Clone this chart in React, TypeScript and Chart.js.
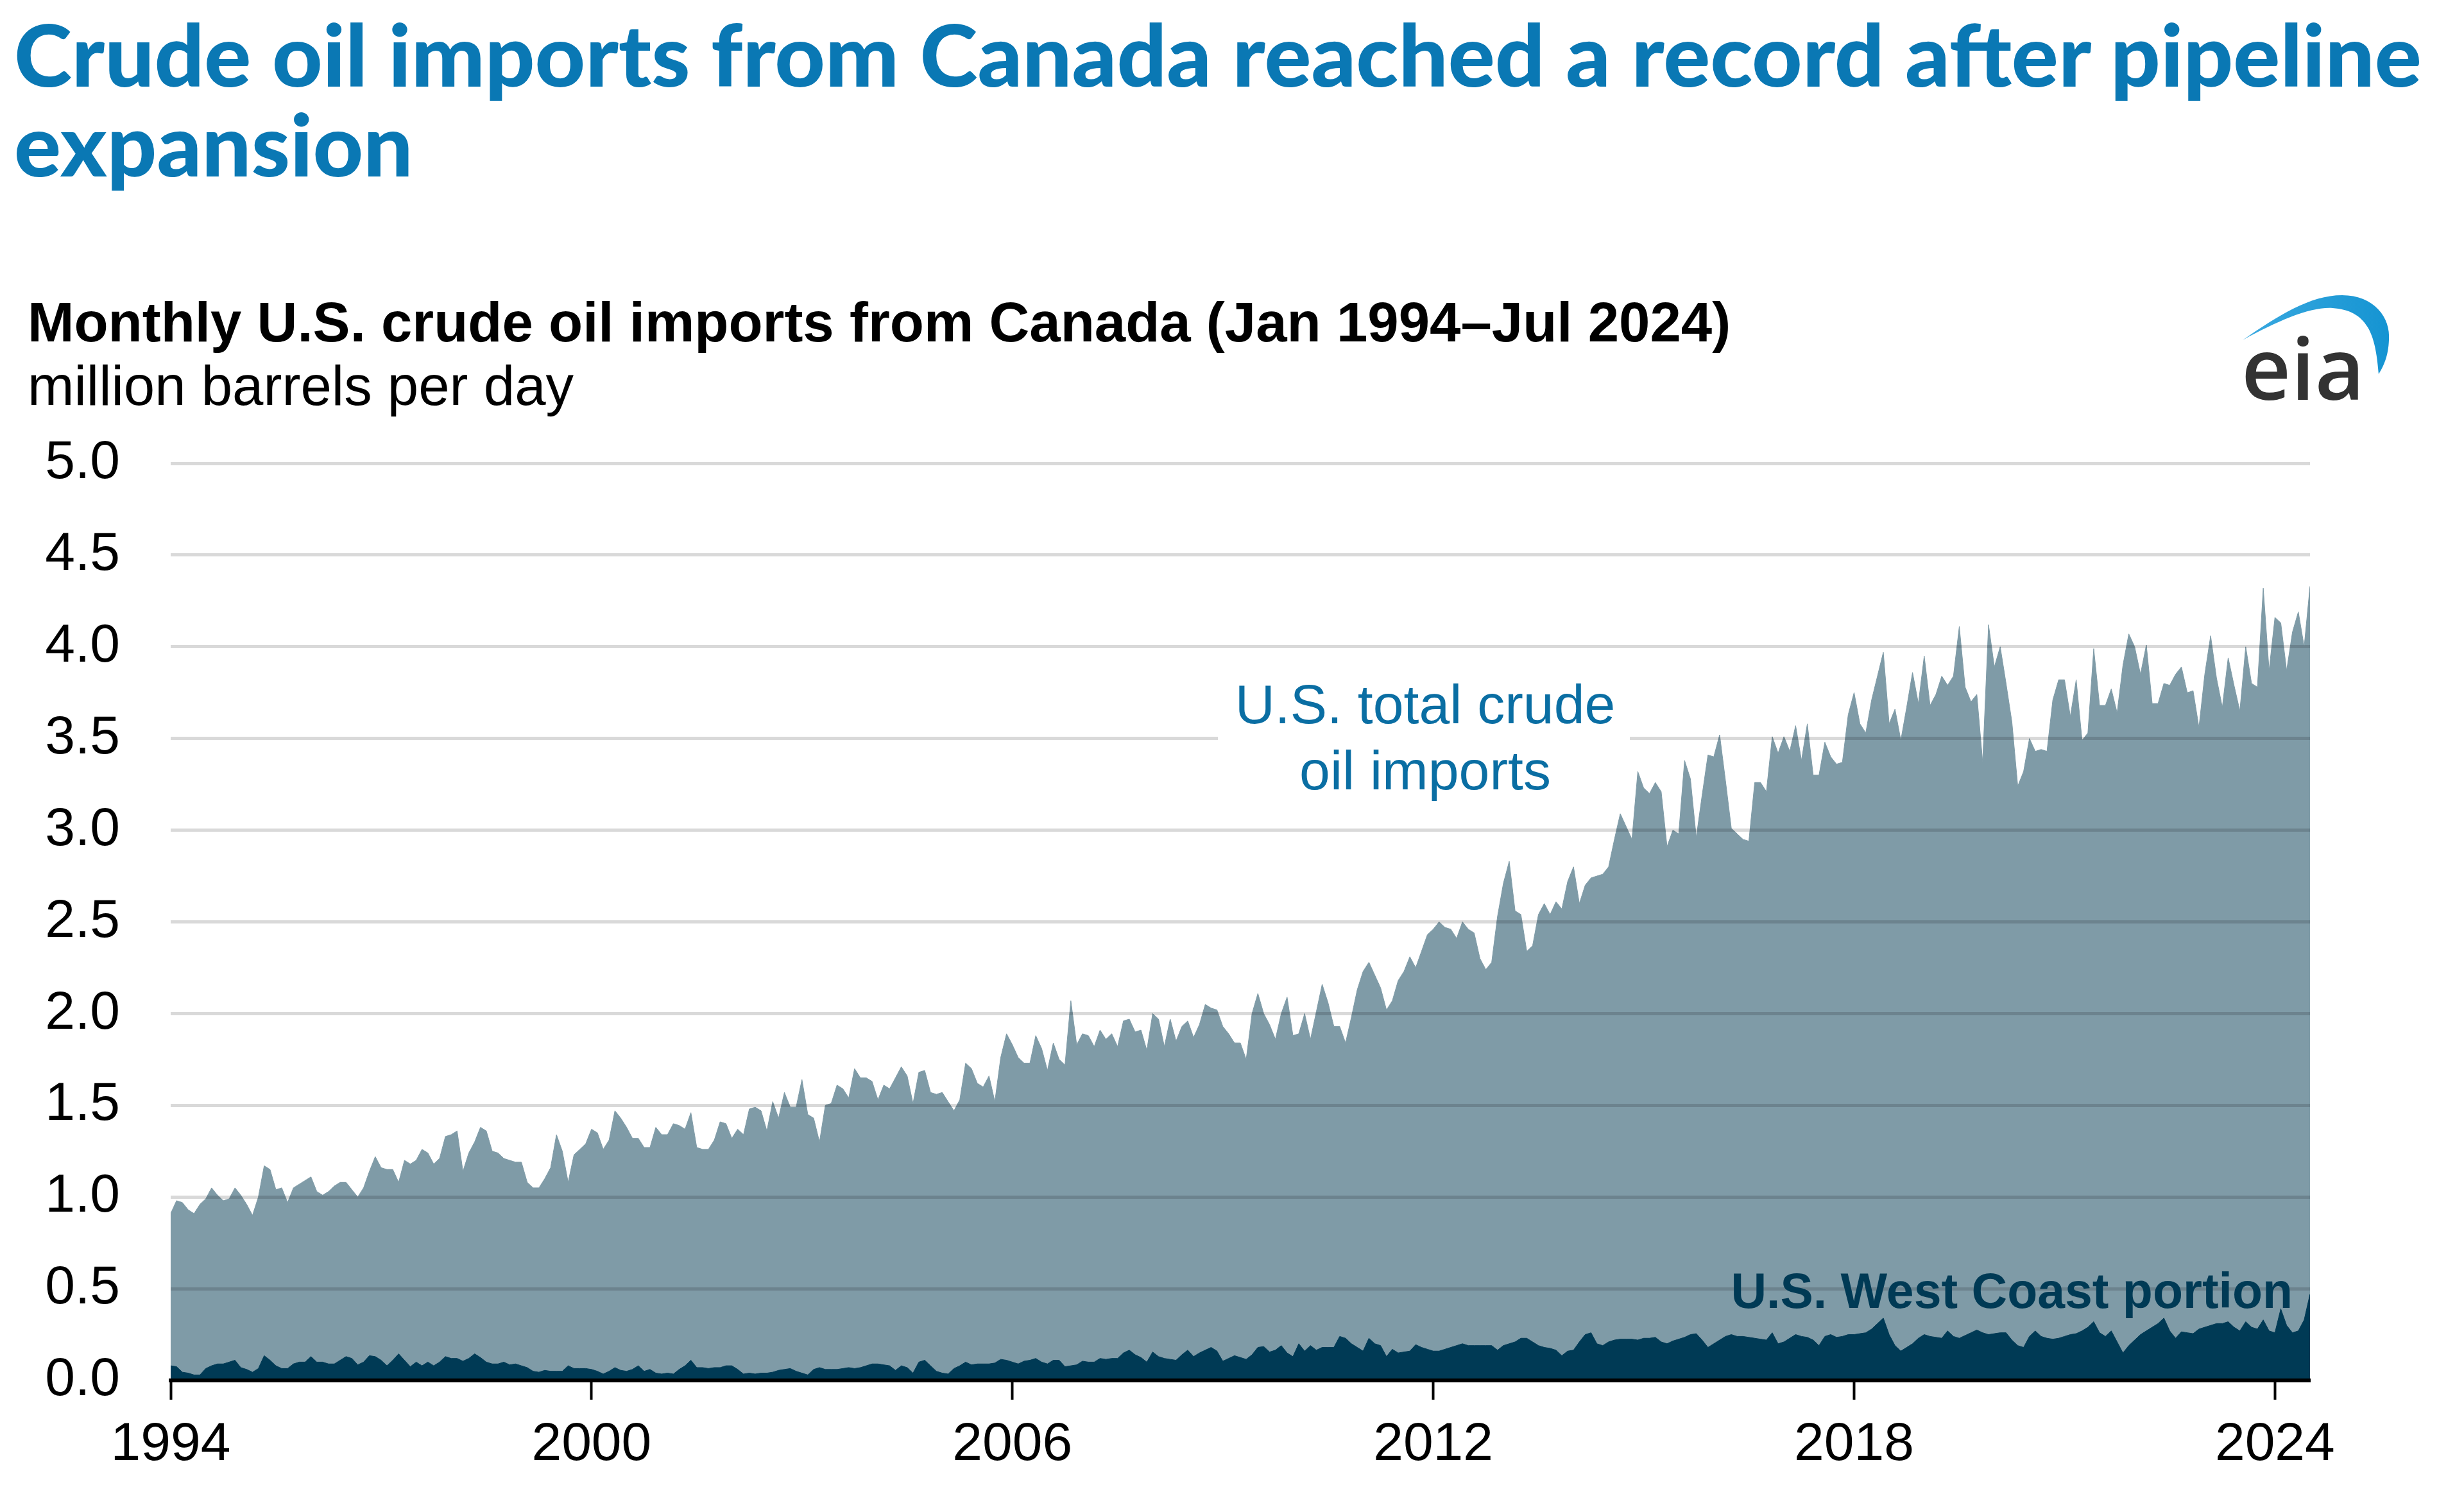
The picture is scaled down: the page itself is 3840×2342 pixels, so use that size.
import React, { useEffect, useLayoutEffect, useRef } from "react";
import { Chart, registerables } from "chart.js";

Chart.register(...registerables);

// ---------- DATA (million barrels per day, monthly Jan 1994 – Jul 2024) ----------
const FIRST_YEAR = 1994;
const X_TICK_STEP_MONTHS = 72; // one labelled tick every 6 years

const total1994to1999 = [
  0.91, 0.98, 0.97, 0.93, 0.91, 0.96, 0.99, 1.05, 1.01, 0.98, 0.99, 1.05,
  1.01, 0.96, 0.9, 1.0, 1.17, 1.15, 1.04, 1.05, 0.97, 1.05, 1.07, 1.09,
  1.11, 1.03, 1.01, 1.03, 1.06, 1.08, 1.08, 1.04, 1.0, 1.05, 1.14, 1.22,
  1.16, 1.15, 1.15, 1.08, 1.2, 1.18, 1.2, 1.26, 1.24, 1.18, 1.21, 1.33,
  1.34, 1.36, 1.14, 1.24, 1.3, 1.38, 1.36, 1.25, 1.24, 1.21, 1.2, 1.19,
  1.19, 1.08, 1.05, 1.05, 1.1, 1.16, 1.34, 1.25, 1.08, 1.23, 1.26, 1.29,
];
const total2000to2005 = [
  1.37, 1.35, 1.26, 1.31, 1.47, 1.43, 1.38, 1.32, 1.32, 1.27, 1.27, 1.38,
  1.34, 1.34, 1.4, 1.39, 1.37, 1.46, 1.27, 1.26, 1.26, 1.31, 1.41, 1.4,
  1.32, 1.37, 1.34, 1.48, 1.49, 1.47, 1.36, 1.52, 1.43, 1.57, 1.49, 1.49,
  1.64, 1.45, 1.43, 1.3, 1.5, 1.51, 1.61, 1.59, 1.54, 1.7, 1.65, 1.65,
  1.63, 1.53, 1.61, 1.59, 1.65, 1.71, 1.66, 1.51, 1.68, 1.69, 1.57, 1.56,
  1.57, 1.52, 1.47, 1.53, 1.73, 1.7, 1.62, 1.6, 1.66, 1.52, 1.76, 1.89,
];
const total2006to2011 = [
  1.83, 1.76, 1.73, 1.73, 1.88, 1.81, 1.69, 1.84, 1.75, 1.72, 2.07, 1.83,
  1.89, 1.88, 1.82, 1.91, 1.86, 1.89, 1.82, 1.96, 1.97, 1.9, 1.91, 1.8,
  2.0, 1.97, 1.82, 1.97, 1.85, 1.93, 1.96, 1.87, 1.94, 2.05, 2.03, 2.02,
  1.93, 1.89, 1.84, 1.84, 1.75, 2.0, 2.11, 2.0, 1.94, 1.86, 2.0, 2.09,
  1.88, 1.89, 2.0, 1.86, 2.01, 2.16, 2.06, 1.93, 1.93, 1.84, 1.98, 2.13,
  2.23, 2.28, 2.21, 2.14, 2.02, 2.07, 2.18, 2.23, 2.31, 2.25, 2.34, 2.43,
];
const total2012to2017 = [
  2.46, 2.5, 2.47, 2.46, 2.41, 2.5, 2.46, 2.44, 2.3, 2.24, 2.28, 2.53,
  2.71, 2.83, 2.56, 2.54, 2.34, 2.37, 2.54, 2.6, 2.54, 2.61, 2.57, 2.72,
  2.8, 2.6, 2.7, 2.74, 2.75, 2.76, 2.8, 2.95, 3.09, 3.02, 2.95, 3.32,
  3.23, 3.2, 3.26, 3.21, 2.91, 3.0, 2.98, 3.38, 3.28, 2.96, 3.19, 3.41,
  3.4, 3.52, 3.27, 3.01, 2.98, 2.95, 2.94, 3.26, 3.26, 3.21, 3.51, 3.42,
  3.51, 3.43, 3.57, 3.38, 3.58, 3.3, 3.3, 3.48, 3.4, 3.36, 3.37, 3.63,
];
const total2018to2024 = [
  3.75, 3.58, 3.53, 3.71, 3.84, 3.97, 3.58, 3.66, 3.49, 3.67, 3.86, 3.69,
  3.95, 3.68, 3.74, 3.84, 3.79, 3.84, 4.11, 3.78, 3.7, 3.74, 3.37, 4.12,
  3.89, 4.0, 3.8, 3.59, 3.24, 3.32, 3.5, 3.43, 3.44, 3.43, 3.71, 3.82,
  3.82, 3.62, 3.82, 3.49, 3.53, 3.99, 3.68, 3.68, 3.77, 3.64, 3.9, 4.07,
  4.0, 3.85, 4.01, 3.69, 3.69, 3.8, 3.79, 3.85, 3.89, 3.75, 3.76, 3.56,
  3.85, 4.06, 3.83, 3.67, 3.94, 3.79, 3.65, 4.0, 3.8, 3.78, 4.32, 3.87,
  4.16, 4.13, 3.87, 4.08, 4.19, 4.0, 4.33,
];

const westCoast1994to1999 = [
  0.08, 0.075, 0.045, 0.04, 0.03, 0.03, 0.065, 0.08, 0.09, 0.09, 0.1, 0.11,
  0.07, 0.06, 0.045, 0.065, 0.135, 0.11, 0.08, 0.065, 0.065, 0.09, 0.1, 0.1,
  0.13, 0.1, 0.1, 0.09, 0.09, 0.11, 0.13, 0.12, 0.085, 0.1, 0.135, 0.13,
  0.11, 0.08, 0.11, 0.145, 0.11, 0.075, 0.1, 0.08, 0.1, 0.08, 0.1, 0.13,
  0.12, 0.12, 0.105, 0.12, 0.145, 0.125, 0.1, 0.09, 0.09, 0.1, 0.085, 0.09,
  0.08, 0.07, 0.05, 0.045, 0.055, 0.05, 0.05, 0.05, 0.08, 0.065, 0.065, 0.065,
];
const westCoast2000to2005 = [
  0.06, 0.05, 0.035, 0.05, 0.07, 0.055, 0.05, 0.06, 0.08, 0.05, 0.06, 0.04,
  0.035, 0.04, 0.035, 0.06, 0.08, 0.11, 0.07, 0.07, 0.065, 0.07, 0.07, 0.08,
  0.08, 0.06, 0.035, 0.04, 0.035, 0.04, 0.04, 0.045, 0.055, 0.06, 0.065, 0.05,
  0.04, 0.03, 0.06, 0.07, 0.06, 0.06, 0.06, 0.065, 0.07, 0.065, 0.07, 0.08,
  0.09, 0.09, 0.085, 0.08, 0.055, 0.08, 0.07, 0.04, 0.1, 0.11, 0.08, 0.05,
  0.04, 0.035, 0.065, 0.08, 0.1, 0.085, 0.09, 0.09, 0.09, 0.095, 0.115, 0.11,
];
const westCoast2006to2011 = [
  0.1, 0.09, 0.105, 0.11, 0.12, 0.1, 0.09, 0.11, 0.11, 0.075, 0.08, 0.085,
  0.105, 0.1, 0.1, 0.12, 0.115, 0.12, 0.12, 0.15, 0.165, 0.14, 0.125, 0.1,
  0.155, 0.13, 0.12, 0.115, 0.11, 0.14, 0.165, 0.13, 0.15, 0.165, 0.18, 0.16,
  0.105, 0.12, 0.135, 0.125, 0.115, 0.14, 0.18, 0.185, 0.155, 0.165, 0.19, 0.15,
  0.13, 0.2, 0.16, 0.19, 0.165, 0.18, 0.18, 0.18, 0.24, 0.23, 0.2, 0.18,
  0.16, 0.23, 0.2, 0.19, 0.13, 0.17, 0.15, 0.155, 0.16, 0.195, 0.18, 0.17,
];
const westCoast2012to2024 = [
  0.16, 0.16, 0.17, 0.18, 0.19, 0.2, 0.19, 0.19, 0.19, 0.19, 0.19, 0.165,
  0.19, 0.2, 0.21, 0.23, 0.23, 0.21, 0.19, 0.18, 0.175, 0.165, 0.135, 0.16,
  0.165, 0.21, 0.25, 0.26, 0.2, 0.19, 0.21, 0.22, 0.225, 0.225, 0.225, 0.22,
  0.23, 0.23, 0.235, 0.21, 0.2, 0.215, 0.225, 0.235, 0.25, 0.255, 0.22, 0.18,
  0.2, 0.22, 0.24, 0.25, 0.24, 0.24, 0.235, 0.23, 0.225, 0.22, 0.26, 0.2,
  0.21, 0.23, 0.25, 0.24, 0.235, 0.22, 0.19, 0.24, 0.25, 0.235, 0.24, 0.25,
  0.25, 0.255, 0.26, 0.28, 0.31, 0.34, 0.25, 0.19, 0.16, 0.18, 0.2, 0.23,
  0.25, 0.24, 0.235, 0.23, 0.27, 0.24, 0.23, 0.245, 0.26, 0.275, 0.26, 0.25,
  0.255, 0.26, 0.26, 0.22, 0.19, 0.18, 0.24, 0.27, 0.24, 0.23, 0.225, 0.23,
  0.24, 0.25, 0.255, 0.27, 0.29, 0.32, 0.26, 0.24, 0.27, 0.21, 0.15, 0.19,
  0.22, 0.25, 0.27, 0.29, 0.31, 0.34, 0.27, 0.23, 0.265, 0.26, 0.255, 0.28,
  0.29, 0.3, 0.31, 0.31, 0.32, 0.29, 0.27, 0.32, 0.29, 0.28, 0.33, 0.27,
  0.26, 0.39, 0.3, 0.26, 0.27, 0.33, 0.47,
];

const totalImports = [
  ...total1994to1999,
  ...total2000to2005,
  ...total2006to2011,
  ...total2012to2017,
  ...total2018to2024,
];
const westCoastPortion = [
  ...westCoast1994to1999,
  ...westCoast2000to2005,
  ...westCoast2006to2011,
  ...westCoast2012to2024,
];
const monthIndex = totalImports.map((_, i) => i);

const TITLE_LINE_1 = "Crude oil imports from Canada reached a record after pipeline";
const TITLE_LINE_2 = "expansion";
const SUBTITLE = "Monthly U.S. crude oil imports from Canada (Jan 1994\u2013Jul 2024)";
const UNITS = "million barrels per day";
const TOTAL_LABEL = ["U.S. total crude", "oil imports"];
const WEST_LABEL = "U.S. West Coast portion";

// ---------- STYLE ----------
const TOTAL_COLOR = "#7f9ba7";
const WEST_COLOR = "#003a55";
const TITLE_COLOR = "#0a78b4";
const LABEL_BLUE = "#0a6ea3";
const ARIAL = "'Liberation Sans', Arial, Helvetica, sans-serif";

const labelsPlugin = {
  id: "seriesLabels",
  afterDraw(chart: any) {
    const ctx = chart.ctx;
    ctx.save();
    ctx.fillStyle = "#ffffff";
    ctx.fillRect(1898, 1040, 642, 215);
    ctx.fillStyle = LABEL_BLUE;
    ctx.font = `86px ${ARIAL}`;
    ctx.textAlign = "center";
    ctx.textBaseline = "alphabetic";
    ctx.fillText(TOTAL_LABEL[0], 2221, 1127);
    ctx.fillText(TOTAL_LABEL[1], 2221, 1230);
    ctx.font = `bold 77px ${ARIAL}`;
    ctx.fillStyle = WEST_COLOR;
    ctx.textAlign = "right";
    ctx.fillText(WEST_LABEL, 3573, 2038);
    ctx.restore();
  },
};

function ChartCanvas() {
  const ref = useRef<HTMLCanvasElement>(null);
  useEffect(() => {
    if (!ref.current) return;
    const chart = new Chart(ref.current, {
      type: "line",
      data: {
        labels: monthIndex,
        datasets: [
          {
            label: WEST_LABEL,
            data: westCoastPortion,
            fill: "origin",
            backgroundColor: WEST_COLOR,
            borderColor: WEST_COLOR,
            borderWidth: 1,
            pointRadius: 0,
            tension: 0,
          },
          {
            label: TOTAL_LABEL.join(" "),
            data: totalImports,
            fill: "origin",
            backgroundColor: TOTAL_COLOR,
            borderColor: TOTAL_COLOR,
            borderWidth: 1,
            pointRadius: 0,
            tension: 0,
          },
        ],
      },
      options: {
        responsive: false,
        animation: false,
        devicePixelRatio: 1,
        events: [],
        layout: { padding: { left: 0, right: 240, top: 722, bottom: 0 } },
        plugins: {
          legend: { display: false },
          tooltip: { enabled: false },
          title: { display: false },
        },
        scales: {
          x: {
            type: "linear",
            min: 0,
            max: monthIndex.length - 1,
            afterFit: (s: any) => {
              s.height = 191;
            },
            ticks: {
              stepSize: X_TICK_STEP_MONTHS,
              includeBounds: false,
              autoSkip: false,
              maxRotation: 0,
              padding: 20,
              color: "#000",
              font: { family: ARIAL, size: 84 },
              callback: (v: any) => String(FIRST_YEAR + Math.round(Number(v) / 12)),
            },
            grid: {
              drawOnChartArea: false,
              drawTicks: true,
              tickLength: 30,
              tickWidth: 4,
              tickColor: "#000",
            },
            border: { display: true, color: "#000", width: 6, z: 2 },
          },
          y: {
            min: 0,
            max: 5,
            afterFit: (s: any) => {
              s.width = 266;
            },
            ticks: {
              stepSize: 0.5,
              padding: 79,
              color: "#000",
              font: { family: ARIAL, size: 84 },
              callback: (v: any) => Number(v).toFixed(1),
            },
            grid: {
              color: "rgba(0,0,0,0.15)",
              lineWidth: 5,
              drawTicks: false,
              z: 1,
            },
            border: { display: false },
          },
        },
      } as any,
      plugins: [labelsPlugin],
    });
    return () => chart.destroy();
  }, []);
  return (
    <canvas
      ref={ref}
      width={3840}
      height={2342}
      style={{ position: "absolute", left: 0, top: 0, width: 3840, height: 2342, display: "block" }}
    />
  );
}

function Title() {
  const l1 = useRef<HTMLSpanElement>(null);
  const l2 = useRef<HTMLSpanElement>(null);
  useLayoutEffect(() => {
    const fit = () => {
      if (!l1.current || !l2.current) return;
      l1.current.style.transform = "none";
      const w = l1.current.getBoundingClientRect().width;
      if (!w) return;
      const s = 3752 / w;
      l1.current.style.transform = `scaleX(${s})`;
      l2.current.style.transform = `scaleX(${s})`;
    };
    fit();
    const fonts = (document as any).fonts;
    if (fonts && fonts.ready) fonts.ready.then(fit);
  }, []);
  const lineStyle: React.CSSProperties = {
    display: "inline-block",
    whiteSpace: "nowrap",
    transformOrigin: "0 0",
  };
  return (
    <div
      style={{
        position: "absolute",
        left: 22,
        top: 14,
        fontFamily: "Lato, 'Open Sans', sans-serif",
        fontWeight: 900,
        fontSize: 133,
        lineHeight: "140px",
        color: TITLE_COLOR,
        whiteSpace: "nowrap",
      }}
    >
      <span ref={l1} style={lineStyle}>{TITLE_LINE_1}</span>
      <br />
      <span ref={l2} style={lineStyle}>{TITLE_LINE_2}</span>
    </div>
  );
}

function Logo() {
  return (
    <svg
      width={320}
      height={240}
      viewBox="0 0 320 240"
      style={{ position: "absolute", left: 3450, top: 420 }}
    >
      <defs>
        <linearGradient id="eiaArc" x1="0" y1="0" x2="1" y2="0">
          <stop offset="0" stopColor="#3aa9e0" />
          <stop offset="1" stopColor="#1594d2" />
        </linearGradient>
      </defs>
      <path
        d="M45,110 C100,72 150,40 200,40 C250,40 276,75 273,110 C272,135 265,150 257,163 C255,140 252,110 240,90 C228,70 210,62 185,60 C150,58 100,80 45,110 Z"
        fill="url(#eiaArc)"
      />
      <text
        x={43}
        y={203}
        fontFamily="'Open Sans', Lato, sans-serif"
        fontWeight={600}
        fontSize={134}
        fill="#333333"
      >
        eia
      </text>
    </svg>
  );
}

export default function App() {
  return (
    <div
      style={{
        position: "absolute",
        left: 0,
        top: 0,
        width: 3840,
        height: 2342,
        overflow: "hidden",
        background: "#ffffff",
      }}
    >
      <ChartCanvas />
      <Title />
      <div
        style={{
          position: "absolute",
          left: 43,
          top: 452,
          fontFamily: ARIAL,
          fontWeight: 700,
          fontSize: 87,
          lineHeight: "100px",
          color: "#000",
          whiteSpace: "nowrap",
        }}
      >
        {SUBTITLE}
      </div>
      <div
        style={{
          position: "absolute",
          left: 43,
          top: 551,
          fontFamily: ARIAL,
          fontWeight: 400,
          fontSize: 87,
          lineHeight: "100px",
          color: "#000",
          whiteSpace: "nowrap",
        }}
      >
        {UNITS}
      </div>
      <Logo />
    </div>
  );
}
